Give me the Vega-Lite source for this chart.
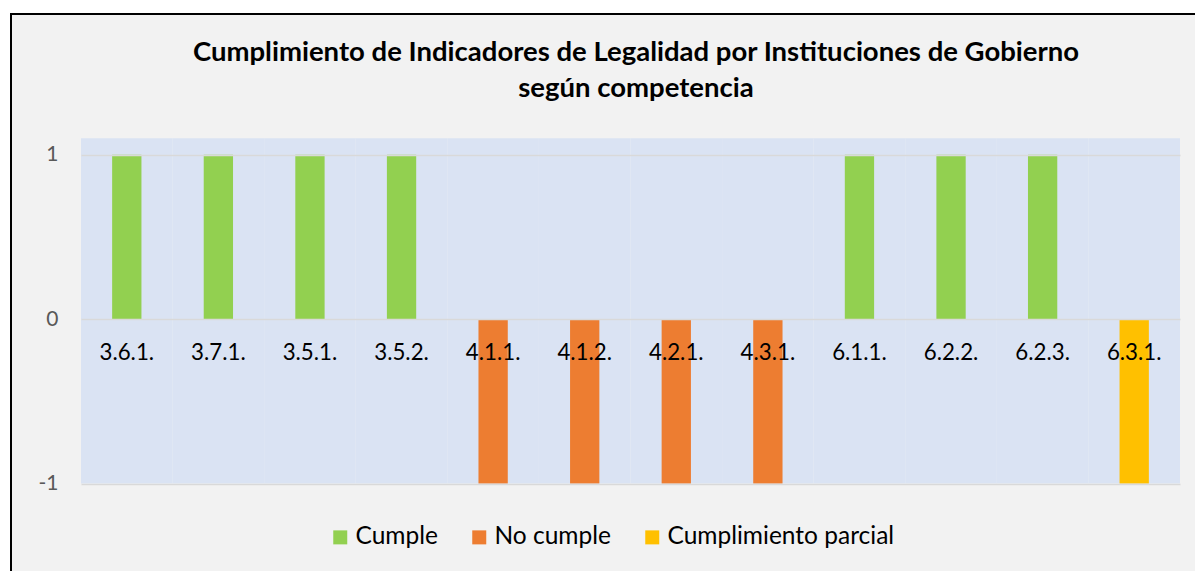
{
  "$schema": "https://vega.github.io/schema/vega-lite/v6.json",
  "width": 1190,
  "height": 562,
  "autosize": {"type": "none"},
  "padding": {"left": 11, "top": 14, "right": 0, "bottom": 0},
  "background": "white",
  "config": {
    "view": {"fill": "#F2F2F2", "stroke": "black", "strokeWidth": 2},
    "font": "Lato"
  },
  "title": {
    "text": ["Cumplimiento de Indicadores de Legalidad por Instituciones de Gobierno", "según competencia"],
    "fontSize": 27.5,
    "fontWeight": "bold",
    "font": "Lato",
    "color": "black",
    "anchor": "middle",
    "frame": "group",
    "offset": -88,
    "dx": 30,
    "lineHeight": 36
  },
  "data": {
    "values": [
      {"codigo": "3.6.1.", "estado": "Cumple", "valor": 1},
      {"codigo": "3.7.1.", "estado": "Cumple", "valor": 1},
      {"codigo": "3.5.1.", "estado": "Cumple", "valor": 1},
      {"codigo": "3.5.2.", "estado": "Cumple", "valor": 1},
      {"codigo": "4.1.1.", "estado": "No cumple", "valor": -1},
      {"codigo": "4.1.2.", "estado": "No cumple", "valor": -1},
      {"codigo": "4.2.1.", "estado": "No cumple", "valor": -1},
      {"codigo": "4.3.1.", "estado": "No cumple", "valor": -1},
      {"codigo": "6.1.1.", "estado": "Cumple", "valor": 1},
      {"codigo": "6.2.2.", "estado": "Cumple", "valor": 1},
      {"codigo": "6.2.3.", "estado": "Cumple", "valor": 1},
      {"codigo": "6.3.1.", "estado": "Cumplimiento parcial", "valor": -1}
    ]
  },
  "encoding": {
    "x": {
      "field": "codigo",
      "type": "nominal",
      "sort": null,
      "scale": {"range": [70, 1169], "paddingInner": 0, "paddingOuter": 0},
      "axis": null
    }
  },
  "layer": [
    {
      "mark": {"type": "bar", "color": "#DAE3F3", "width": {"band": 1}},
      "encoding": {
        "y": {
          "datum": 1.1,
          "type": "quantitative",
          "scale": {"domain": [-1, 1.1], "range": [469.5, 124.3], "nice": false, "zero": false},
          "axis": {
            "values": [-1, 0, 1],
            "labelExpr": "'' + datum.value",
            "grid": true,
            "gridColor": "#D9D9D9",
            "gridWidth": 1.5,
            "domain": false,
            "ticks": false,
            "labelPadding": 0,
            "offset": -47,
            "labelFontSize": 21,
            "labelFont": "Lato",
            "labelColor": "#595959",
            "title": null,
            "zindex": 1
          }
        },
        "y2": {"datum": -1}
      }
    },
    {
      "mark": {"type": "bar", "width": {"band": 0.32}},
      "encoding": {
        "y": {"field": "valor", "type": "quantitative"},
        "y2": {"datum": 0},
        "color": {
          "field": "estado",
          "type": "nominal",
          "scale": {
            "domain": ["Cumple", "No cumple", "Cumplimiento parcial"],
            "range": ["#92D050", "#ED7D31", "#FFC000"]
          },
          "legend": {
            "orient": "none",
            "legendX": 317,
            "legendY": 511,
            "direction": "horizontal",
            "columns": 3,
            "title": null,
            "symbolType": "square",
            "symbolSize": 196,
            "symbolStrokeWidth": 0,
            "labelFontSize": 24.5,
            "labelFont": "Lato",
            "labelColor": "black",
            "labelOffset": 3,
            "columnPadding": 29,
            "labelLimit": 400
          }
        }
      }
    },
    {
      "mark": {"type": "text", "fontSize": 22.3, "font": "Lato", "dy": 34, "color": "black"},
      "encoding": {
        "y": {"datum": 0, "type": "quantitative"},
        "text": {"field": "codigo"}
      }
    }
  ]
}
